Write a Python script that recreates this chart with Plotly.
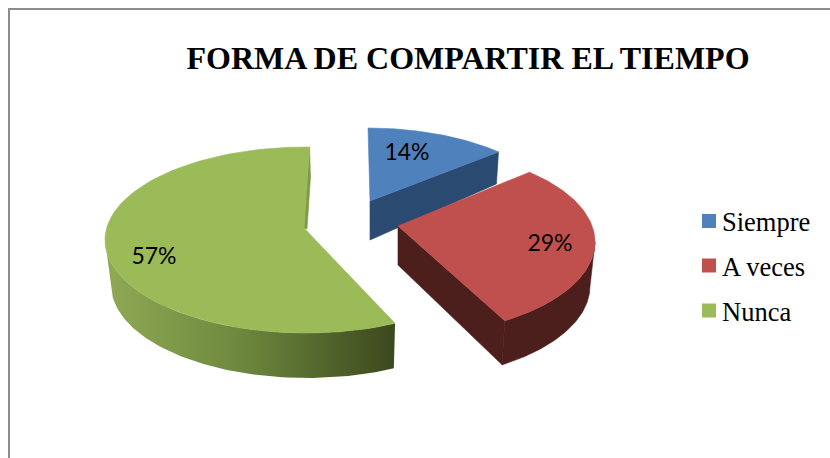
import math
import plotly.graph_objects as go

# ---- data ----
categories = ["Siempre", "A veces", "Nunca"]
shares = [14, 29, 57]
title_text = "FORMA DE COMPARTIR EL TIEMPO"

# ---- styling / layout of the drawing ----
W, H = 830, 458
top_colors = ["#4f81bd", "#c0504d", "#9bbb59"]
cut_colors = ["#2b4a72", "#4c1e1c", "#7f9a45"]
wall_color_red = "#4c1e1c"
green_wall_scale = [[0, "#8fa955"], [0.45, "#6f8a3f"], [1, "#3c481e"]]

# per slice: ellipse centre, radii, apex, angle skew at both ends, lower rim
geom = [
    dict(c=(368, 221), rx=195, ry=93, apex=(370, 201), skew=(0, -8.4),
         lower=(368, 253), lrx=192, apex_depth=39),
    dict(c=(397, 242), rx=198, ry=94, apex=(398, 226), skew=(-8.4, -7.8),
         lower=(397, 286), lrx=193, apex_depth=39),
    dict(c=(306, 240), rx=201, ry=93, apex=(304, 228), skew=(-1.1, 1),
         lower=(307, 285), lrx=196, apex_depth=1),
]
label_pos = [(407, 154), (550, 245), (154, 258)]
legend_key_pos = [(709, 221), (709, 265.5), (709, 310.5)]
legend_text_pos = [(722, 224), (722, 269), (722, 314)]


def pt(c, rx, ry, t):
    r = math.radians(t)
    return c[0] + rx * math.sin(r), c[1] - ry * math.cos(r)


def arc(c, rx, ry, t0, t1, n=90):
    return [pt(c, rx, ry, t0 + (t1 - t0) * i / n) for i in range(n + 1)]


def poly(points, color=None, gradient=None):
    xs = [p[0] for p in points] + [points[0][0]]
    ys = [p[1] for p in points] + [points[0][1]]
    kw = dict(fillgradient=gradient) if gradient else dict(fillcolor=color)
    line = dict(width=0.6, color=color) if color else dict(width=0)
    return go.Scatter(x=xs, y=ys, mode="lines", fill="toself", line=line,
                      hoverinfo="skip", showlegend=False, **kw)


# slice angles from the data
total = sum(shares)
spans, acc = [], 0.0
for v in shares:
    a0 = acc / total * 360
    acc += v
    spans.append((a0, acc / total * 360))

fig = go.Figure()
face_traces = []
for i, g in enumerate(geom):
    t0 = spans[i][0] + g["skew"][0]
    t1 = spans[i][1] + g["skew"][1]
    rim = arc(g["c"], g["rx"], g["ry"], t0, t1)
    low = arc(g["lower"], g["lrx"], g["ry"], t0, t1)
    apex = g["apex"]
    apex_low = (apex[0], apex[1] + g["apex_depth"])
    if i == 0:
        # blue: cut face on the clockwise edge
        fig.add_trace(poly([apex, rim[-1], low[-1], apex_low], cut_colors[0]))
    elif i == 1:
        # red: outer wall and cut face on the clockwise edge
        vis0 = 90
        wall_top = arc(g["c"], g["rx"], g["ry"], vis0, t1)
        wall_low = arc(g["lower"], g["lrx"], g["ry"], vis0, t1)
        fig.add_trace(poly(wall_top + wall_low[::-1], wall_color_red))
        fig.add_trace(poly([apex, rim[-1], low[-1], apex_low], cut_colors[1]))
    else:
        # green: gradient outer wall and a thin sliver of the closing cut
        vis1 = 270
        wall_top = arc(g["c"], g["rx"], g["ry"], t0, vis1)
        wall_low = arc(g["lower"], g["lrx"], g["ry"], t0, vis1)
        grad = dict(type="horizontal", colorscale=green_wall_scale)
        fig.add_trace(poly(wall_top + wall_low[::-1], gradient=grad))
        fig.add_trace(poly([rim[-1], (rim[-1][0] + 1, rim[-1][1] + 30),
                            (apex[0] + 3, apex[1] + 1), apex], cut_colors[2]))
    face_traces.append(poly(rim + [apex], top_colors[i]))

for tr in face_traces:
    fig.add_trace(tr)

# percentage labels
fig.add_trace(go.Scatter(
    x=[p[0] for p in label_pos], y=[p[1] for p in label_pos],
    mode="text", text=[f"{v}%" for v in shares], textposition="middle center",
    textfont=dict(family="Lato", size=23, color="#000000"),
    hoverinfo="skip", showlegend=False))

# legend keys and labels
fig.add_trace(go.Scatter(
    x=[p[0] for p in legend_key_pos], y=[p[1] for p in legend_key_pos],
    mode="markers",
    marker=dict(symbol="square", size=14, color=top_colors, line=dict(width=0)),
    hoverinfo="skip", showlegend=False))
fig.add_trace(go.Scatter(
    x=[p[0] for p in legend_text_pos], y=[p[1] for p in legend_text_pos],
    mode="text", text=categories, textposition="middle right",
    textfont=dict(family="Liberation Serif", size=26.5, color="#000000"),
    hoverinfo="skip", showlegend=False))

fig.update_layout(
    width=W, height=H, autosize=False,
    margin=dict(l=0, r=0, t=0, b=0),
    paper_bgcolor="white", plot_bgcolor="white", showlegend=False,
    xaxis=dict(range=[0, W], visible=False, fixedrange=True),
    yaxis=dict(range=[H, 0], visible=False, fixedrange=True),
    title=dict(text=f"<b>{title_text}</b>", x=468 / W, xanchor="center",
               y=1 - 58 / H, yanchor="middle",
               font=dict(family="Liberation Serif", size=32, color="#000000")),
    shapes=[
        dict(type="line", xref="x", yref="y", x0=9, x1=9, y0=9, y1=H,
             line=dict(color="#8c8c8c", width=2)),
        dict(type="line", xref="x", yref="y", x0=8, x1=W, y0=9, y1=9,
             line=dict(color="#8c8c8c", width=2)),
    ],
)
fig.write_html("out.html", config=dict(displayModeBar=False),
               post_script="document.body.style.margin='0';document.documentElement.style.overflow='hidden';")
